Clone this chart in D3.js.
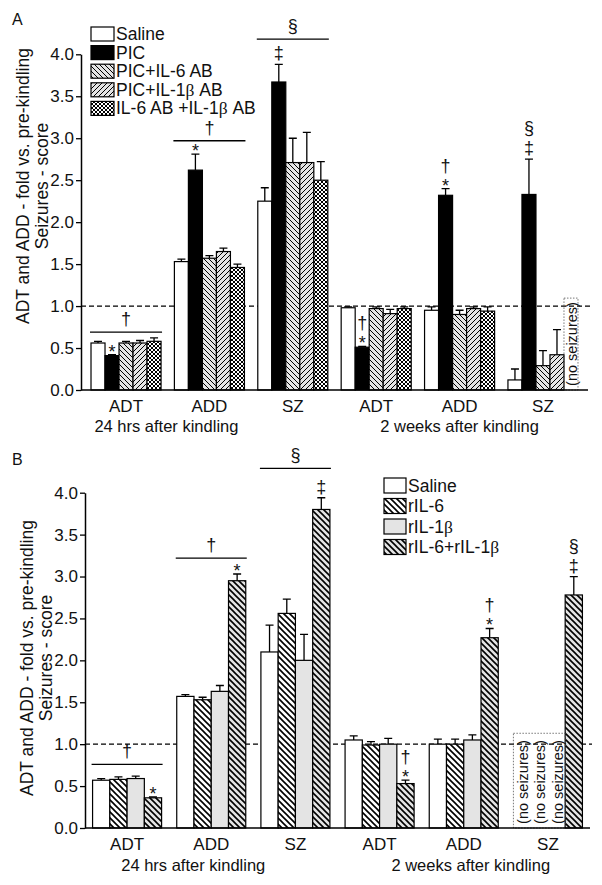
<!DOCTYPE html>
<html lang="en">
<head>
<meta charset="utf-8" />
<title>Kindling cytokine bars</title>
<style>
html, body {
	margin: 0;
	padding: 0;
	background: #fff;
}
svg { display: block; }
text {
	font-family: "Liberation Sans", Arial, sans-serif;
	fill: #111;
}
</style>
</head>
<body>
<svg width="602" height="885"></svg>

<script src="https://cdn.jsdelivr.net/npm/d3@7/dist/d3.min.js"></script>
<script>
// categories / tick labels
var groupLabels = ["ADT", "ADD", "SZ", "ADT", "ADD", "SZ"];
var periodLabels = ["24 hrs after kindling", "2 weeks after kindling"];
var yTicks = [0, 0.5, 1, 1.5, 2, 2.5, 3, 3.5, 4];
var yTitle = ["ADT and ADD - fold vs. pre-kindling", "Seizures - score"];

// panel A: means and top of error bars (null = no seizures)
var seriesA = ["Saline", "PIC", "PIC+IL-6 AB", "PIC+IL-1β AB", "IL-6 AB +IL-1β AB"];
var meanA = [
	[0.56, 1.53, 2.25, 0.98, 0.95, 0.12],
	[0.41, 2.62, 3.67, 0.51, 2.32, 2.33],
	[0.56, 1.57, 2.71, 0.97, 0.90, 0.29],
	[0.56, 1.65, 2.71, 0.91, 0.97, 0.42],
	[0.58, 1.46, 2.50, 0.97, 0.94, null]
];
var errA = [
	[0.58, 1.56, 2.41, 0.99, 0.99, 0.25],
	[0.42, 2.81, 3.88, 0.52, 2.40, 2.75],
	[0.58, 1.60, 3.00, 0.99, 0.95, 0.47],
	[0.59, 1.69, 3.07, 0.96, 0.99, 0.72],
	[0.62, 1.50, 2.72, 0.99, 0.99, null]
];
// significance: bracket lines over whole group, and symbols over single bars
var bracketsA = [{g: 0, v: 0.69, sym: "†"}, {g: 1, v: 2.97, sym: "†"}, {g: 2, v: 4.18, sym: "§"}];
var marksA = [
	{g: 0, s: 1, syms: ["*"]},
	{g: 1, s: 1, syms: ["*"]},
	{g: 2, s: 1, syms: ["‡"]},
	{g: 3, s: 1, syms: ["†", "*"]},
	{g: 4, s: 1, syms: ["†", "*"]},
	{g: 5, s: 1, syms: ["§", "‡"]}
];

// panel B
var seriesB = ["Saline", "rIL-6", "rIL-1β", "rIL-6+rIL-1β"];
var meanB = [
	[0.57, 1.57, 2.10, 1.05, 1.00, null],
	[0.58, 1.53, 2.56, 0.99, 1.00, null],
	[0.59, 1.63, 2.00, 1.00, 1.05, null],
	[0.36, 2.95, 3.80, 0.53, 2.27, 2.78]
];
var errB = [
	[0.59, 1.59, 2.42, 1.10, 1.06, null],
	[0.61, 1.56, 2.73, 1.03, 1.06, null],
	[0.62, 1.70, 2.31, 1.07, 1.11, null],
	[0.37, 3.03, 3.94, 0.57, 2.38, 3.00]
];
var bracketsB = [{g: 0, v: 0.76, sym: "†"}, {g: 1, v: 3.22, sym: "†"}, {g: 2, v: 4.29, sym: "§"}];
var marksB = [
	{g: 0, s: 3, syms: ["*"]},
	{g: 1, s: 3, syms: ["*"]},
	{g: 2, s: 3, syms: ["‡"]},
	{g: 3, s: 3, syms: ["†", "*"]},
	{g: 4, s: 3, syms: ["†", "*"]},
	{g: 5, s: 3, syms: ["§", "‡"]}
];

var svg = d3.select("svg");

// hatch patterns
var defs = svg.append("defs");
function hatch(id, size, bg, paths, sw) {
	var p = defs.append("pattern").attr("id", id)
		.attr("patternUnits", "userSpaceOnUse")
		.attr("width", size).attr("height", size);
	p.append("rect").attr("width", size).attr("height", size).attr("fill", bg);
	p.append("path").attr("d", paths).attr("stroke", "#000")
		.attr("stroke-width", sw).attr("fill", "none");
}
var s = 5;
var back = "M-1,-1L" + (s + 1) + "," + (s + 1) + "M-1," + (s - 1) + "L1," + (s + 1) + "M" + (s - 1) + ",-1L" + (s + 1) + ",1";
var fwd = "M-1," + (s + 1) + "L" + (s + 1) + ",-1M-1,1L1,-1M" + (s - 1) + "," + (s + 1) + "L" + (s + 1) + "," + (s - 1);
hatch("a-back", s, "#e4e4e4", back, 1);
hatch("a-fwd", s, "#e4e4e4", fwd, 1);
hatch("a-cross", 4, "#fff", "M-1,-1L5,5M-1,3L1,5M3,-1L5,1M-1,5L5,-1M-1,1L1,-1M3,5L5,3", 1);
var t = 6;
var backB = "M-1,-1L" + (t + 1) + "," + (t + 1) + "M-1," + (t - 1) + "L1," + (t + 1) + "M" + (t - 1) + ",-1L" + (t + 1) + ",1";
hatch("b-back", t, "#fff", backB, 1.6);
hatch("b-back-grey", t, "#e4e4e4", backB, 1.6);

var fillsA = ["#fff", "#000", "url(#a-back)", "url(#a-fwd)", "url(#a-cross)"];
var fillsB = ["#fff", "url(#b-back)", "#e4e4e4", "url(#b-back-grey)"];

// put text with a serif beta
function richText(sel, str) {
	str.split("β").forEach(function(part, i) {
		if (i > 0) sel.append("tspan").style("font-family", "'Liberation Serif', serif").text("β");
		if (part) sel.append("tspan").text(part);
	});
}

function drawPanel(p) {
	var g = svg.append("g");
	var y = d3.scaleLinear().domain([0, 4]).range([p.bottom, p.top]);
	var x0 = d3.scaleBand().domain(d3.range(groupLabels.length))
		.range([p.left, p.right]).paddingInner(p.padIn).paddingOuter(p.padOut);
	var x1 = d3.scaleBand().domain(d3.range(p.series.length)).range([0, x0.bandwidth()]);

	// dashed reference at 1.0
	g.append("line")
		.attr("x1", p.left).attr("x2", p.right + 2)
		.attr("y1", y(1)).attr("y2", y(1))
		.attr("stroke", "#000").attr("stroke-width", 1.2)
		.attr("stroke-dasharray", "5,3");

	// bars
	p.series.forEach(function(name, si) {
		var rows = p.mean[si].map(function(v, gi) { return {g: gi, v: v, e: p.err[si][gi]}; })
			.filter(function(d) { return d.v != null; });
		var bx = function(d) { return x0(d.g) + x1(si); };

		g.selectAll(".err" + si).data(rows).enter().append("path")
			.attr("d", function(d) {
				var cx = bx(d) + x1.bandwidth() / 2;
				return "M" + cx + "," + y(d.v) + "V" + y(d.e) + "M" + (cx - 4) + "," + y(d.e) + "H" + (cx + 4);
			})
			.attr("stroke", "#000").attr("stroke-width", 1.3).attr("fill", "none");

		g.selectAll(".bar" + si).data(rows).enter().append("rect")
			.attr("x", bx)
			.attr("y", function(d) { return y(d.v); })
			.attr("width", x1.bandwidth())
			.attr("height", function(d) { return y(0) - y(d.v); })
			.attr("fill", p.fills[si])
			.attr("stroke", "#000").attr("stroke-width", 1.2);
	});

	// "no seizures" boxes
	p.series.forEach(function(name, si) {
		p.mean[si].forEach(function(v, gi) {
			if (v != null) return;
			var bx = x0(gi) + x1(si);
			var cx = bx + x1.bandwidth() / 2;
			g.append("text")
				.attr("transform", "translate(" + (cx + 1) + "," + (y(0) - 46) + ") rotate(-90)")
				.attr("text-anchor", "middle").attr("dominant-baseline", "central")
				.style("font-size", "14.5px")
				.text("(no seizures)");
		});
	});
	p.noSeiz.forEach(function(b) {
		var xa = x0(b.g) + x1(b.s0), xb = x0(b.g) + x1(b.s1) + x1.bandwidth();
		g.append("rect")
			.attr("x", xa).attr("y", y(b.v))
			.attr("width", xb - xa).attr("height", y(0) - y(b.v))
			.attr("fill", "none").attr("stroke", "#555")
			.attr("stroke-width", 0.8).attr("stroke-dasharray", "1.5,1.5");
	});

	// axes
	g.append("line")
		.attr("x1", p.left).attr("x2", p.right)
		.attr("y1", y(0)).attr("y2", y(0))
		.attr("stroke", "#000").attr("stroke-width", 1.5);
	var ax = g.append("g").attr("transform", "translate(" + p.left + ",0)")
		.call(d3.axisLeft(y).tickValues(yTicks).tickFormat(d3.format(".1f"))
			.tickSize(5).tickSizeOuter(0).tickPadding(2));
	ax.select(".domain").attr("stroke-width", 1.5);
	ax.selectAll(".tick line").attr("stroke-width", 1.3);
	ax.selectAll(".tick text").style("font-size", "17px")
		.style("font-family", "'Liberation Sans', Arial, sans-serif").attr("fill", "#111");

	g.selectAll(".xl").data(groupLabels).enter().append("text")
		.attr("x", function(d, i) { return x0(i) + x0.bandwidth() / 2; })
		.attr("y", p.bottom + 22)
		.attr("text-anchor", "middle").style("font-size", "17px")
		.text(function(d) { return d; });
	periodLabels.forEach(function(lbl, i) {
		var gi = i * 3 + 1;
		g.append("text")
			.attr("x", x0(gi) + x0.bandwidth() / 2 + p.periodShift[i])
			.attr("y", p.bottom + p.periodDy)
			.attr("text-anchor", "middle").style("font-size", "16.5px")
			.text(lbl);
	});

	// y title
	yTitle.forEach(function(lbl, i) {
		g.append("text")
			.attr("transform", "translate(" + (p.left - 58 + i * 19) + "," + p.titleY + ") rotate(-90)")
			.attr("text-anchor", "middle").attr("dominant-baseline", "central")
			.style("font-size", "17.5px")
			.text(lbl);
	});

	// panel letter
	g.append("text").attr("x", 12).attr("y", p.letterY)
		.style("font-size", "16px").text(p.id);

	// brackets
	p.brackets.forEach(function(b) {
		var xa = x0(b.g) - 1, xb = x0(b.g) + x0.bandwidth() + 1;
		g.append("line").attr("x1", xa).attr("x2", xb)
			.attr("y1", y(b.v)).attr("y2", y(b.v))
			.attr("stroke", "#000").attr("stroke-width", 1.3);
		g.append("text").attr("x", (xa + xb) / 2).attr("y", y(b.v) - 7)
			.attr("text-anchor", "middle").style("font-size", "18px").text(b.sym);
	});

	// symbols above bars
	p.marks.forEach(function(m) {
		var cx = x0(m.g) + x1(m.s) + x1.bandwidth() / 2;
		var top = y(p.err[m.s][m.g]);
		var n = m.syms.length;
		m.syms.forEach(function(sym, k) {
			var last = m.syms[n - 1];
			var base = top + (last === "*" ? 3 : -5) - (n - 1 - k) * 20;
			g.append("text").attr("x", cx).attr("y", base)
				.attr("text-anchor", "middle").style("font-size", "18px").text(sym);
		});
	});

	// legend
	var lg = g.append("g");
	p.series.forEach(function(name, si) {
		var ly = p.legend.y + si * p.legend.step;
		lg.append("rect")
			.attr("x", p.legend.x).attr("y", ly)
			.attr("width", p.legend.w).attr("height", p.legend.h)
			.attr("fill", p.fills[si]).attr("stroke", "#000").attr("stroke-width", 1.2);
		var tx = lg.append("text")
			.attr("x", p.legend.x + p.legend.w + 2)
			.attr("y", ly + p.legend.h / 2)
			.attr("dominant-baseline", "central")
			.style("font-size", "17.5px");
		richText(tx, name);
	});
}

drawPanel({
	id: "A", series: seriesA, mean: meanA, err: errA, fills: fillsA,
	top: 54.3, bottom: 390, left: 81, right: 588, padIn: 0.16, padOut: 0.12,
	brackets: bracketsA, marks: marksA,
	noSeiz: [{g: 5, s0: 4, s1: 4, v: 1.095}],
	periodShift: [-43, 0], periodDy: 42, titleY: 186, letterY: 25,
	legend: {x: 91, y: 27, w: 23, h: 14, step: 18.6}
});

drawPanel({
	id: "B", series: seriesB, mean: meanB, err: errB, fills: fillsB,
	top: 492.7, bottom: 828, left: 85, right: 590, padIn: 0.18, padOut: 0.09,
	brackets: bracketsB, marks: marksB,
	noSeiz: [{g: 5, s0: 0, s1: 2, v: 1.13}],
	periodShift: [-18, 7], periodDy: 43, titleY: 658, letterY: 465,
	legend: {x: 384, y: 478, w: 22, h: 15, step: 20.5}
});
</script>
</body>
</html>
